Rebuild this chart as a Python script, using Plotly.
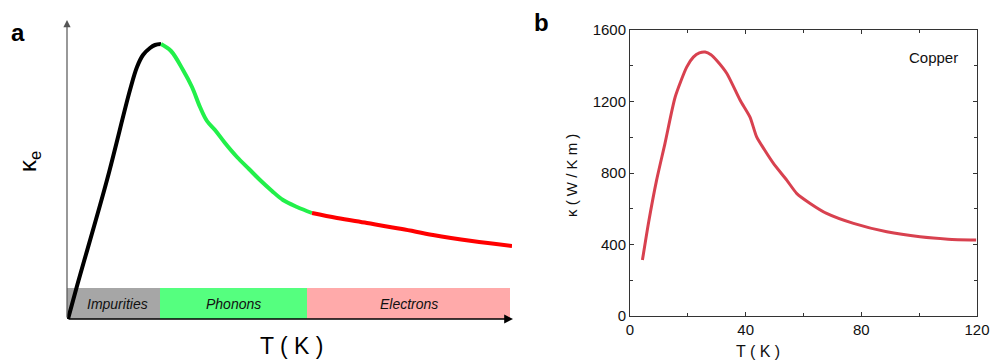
import plotly.graph_objects as go

# ---- Panel a: schematic kappa_e(T), three regimes (arbitrary units) ----
imp_x = [1, 10, 40, 63, 70, 76, 83, 88, 94]
imp_y = [0, 33, 139, 229, 252, 264, 271, 274, 275]
pho_x = [94, 104, 116, 125, 133, 140, 148, 158, 170, 182, 193, 205, 216, 230, 245]
pho_y = [275, 268, 249, 232, 212, 198, 189, 176, 162, 150, 139, 128, 119, 112, 106]
ele_x = [245, 270, 300, 335, 366, 405, 445]
ele_y = [106, 101, 96, 90, 84, 78, 73]

regions = ["Impurities", "Phonons", "Electrons"]
region_edges = [0, 93, 240, 443]
region_colors = ["#a6a6a6", "#55ff7f", "#ffaaaa"]
band_top = 31

# ---- Panel b: thermal conductivity of copper ----
T_cu = [4.3, 6.5, 9.2, 12.1, 15.6, 19.6, 21.9, 24.0, 26.0, 28.0, 30.0, 33.5, 38.1, 41.5,
        43.8, 46.5, 49.6, 54.2, 57.7, 62.3, 68.0, 77.3, 88.8, 100.3, 110.0, 119.7]
k_cu = [313, 530, 760, 966, 1224, 1392, 1448, 1472, 1477, 1462, 1430, 1357, 1207, 1113,
        1002, 930, 854, 760, 685, 630, 574, 518, 471, 443, 430, 425]

FONT = "Liberation Sans, Arial, sans-serif"
W, H = 992, 360


def px(x):
    return x / W


def py(y):
    return (H - y) / H


fig = go.Figure()

# regime bands along the bottom of panel a
shapes = []
for i in range(3):
    shapes.append(dict(type="rect", xref="x", yref="y",
                       x0=region_edges[i], x1=region_edges[i + 1], y0=0, y1=band_top,
                       fillcolor=region_colors[i], line=dict(width=0), layer="below"))

fig.add_trace(go.Scatter(x=imp_x, y=imp_y, mode="lines", xaxis="x", yaxis="y",
                         line=dict(color="black", width=4, shape="spline"), showlegend=False))
fig.add_trace(go.Scatter(x=pho_x, y=pho_y, mode="lines", xaxis="x", yaxis="y",
                         line=dict(color="#22f04a", width=4, shape="spline"), showlegend=False))
fig.add_trace(go.Scatter(x=ele_x, y=ele_y, mode="lines", xaxis="x", yaxis="y",
                         line=dict(color="#ff0000", width=4, shape="spline"), showlegend=False))

fig.add_trace(go.Scatter(x=T_cu, y=k_cu, mode="lines", xaxis="x2", yaxis="y2",
                         line=dict(color="#d8414f", width=3, shape="spline", smoothing=0.6),
                         showlegend=False))

annotations = []
# axis arrows of panel a
annotations.append(dict(x=0, y=299, ax=0, ay=0, xref="x", yref="y", axref="x", ayref="y",
                        showarrow=True, arrowhead=2, arrowsize=1.2, arrowwidth=1.2,
                        arrowcolor="#555555", text=""))
annotations.append(dict(x=446, y=0, ax=0, ay=0, xref="x", yref="y", axref="x", ayref="y",
                        showarrow=True, arrowhead=2, arrowsize=1.1, arrowwidth=1.6,
                        arrowcolor="black", text=""))

for i, name in enumerate(regions):
    annotations.append(dict(x=(region_edges[i] + region_edges[i + 1]) / 2 + (4 if i == 0 else 0),
                            y=band_top / 2, xref="x", yref="y", showarrow=False,
                            xanchor="center", yanchor="middle",
                            text="<i>%s</i>" % name,
                            font=dict(family=FONT, size=14, color="#111111")))


def label(x, y, text, size, angle=0, anchor="center", color="black"):
    return dict(x=px(x), y=py(y), xref="paper", yref="paper", showarrow=False, text=text,
                xanchor=anchor, yanchor="middle", textangle=angle,
                font=dict(family=FONT, size=size, color=color))


annotations += [
    label(18, 32, "<b>a</b>", 24),
    label(541, 22, "<b>b</b>", 24),
    label(291, 346, "T ( K )", 23),
    label(30, 162, "κ<sub>e</sub>", 24, angle=-90),
    label(758, 351, "T ( K )", 16, color="#111111"),
    label(571, 176, "κ ( W / K m )", 15, angle=-90, color="#111111"),
    label(960, 58, "Copper", 15, anchor="right", color="#111111"),
]

axis_b = dict(showline=True, linecolor="#333333", linewidth=1, mirror="ticks",
              ticks="inside", ticklen=4, tickcolor="#333333", showgrid=False, zeroline=False,
              tickfont=dict(family=FONT, size=15, color="#111111"))

fig.update_layout(
    width=W, height=H, margin=dict(l=0, r=0, t=0, b=0, pad=0, autoexpand=False),
    paper_bgcolor="white", plot_bgcolor="white",
    shapes=shapes, annotations=annotations,
    xaxis=dict(domain=[px(67), px(512)], range=[0, 445], visible=False),
    yaxis=dict(domain=[py(319), py(20)], range=[0, 299], visible=False),
    xaxis2=dict(domain=[px(630), px(977)], range=[0, 120], anchor="y2",
                tickvals=[0, 40, 80, 120],
                minor=dict(dtick=20, ticks="inside", ticklen=3, tickcolor="#333333"),
                **axis_b),
    yaxis2=dict(domain=[py(316), py(30)], range=[0, 1600], anchor="x2",
                tickvals=[0, 400, 800, 1200, 1600],
                minor=dict(dtick=200, ticks="inside", ticklen=3, tickcolor="#333333"),
                **axis_b),
)

fig.write_html("out.html")
